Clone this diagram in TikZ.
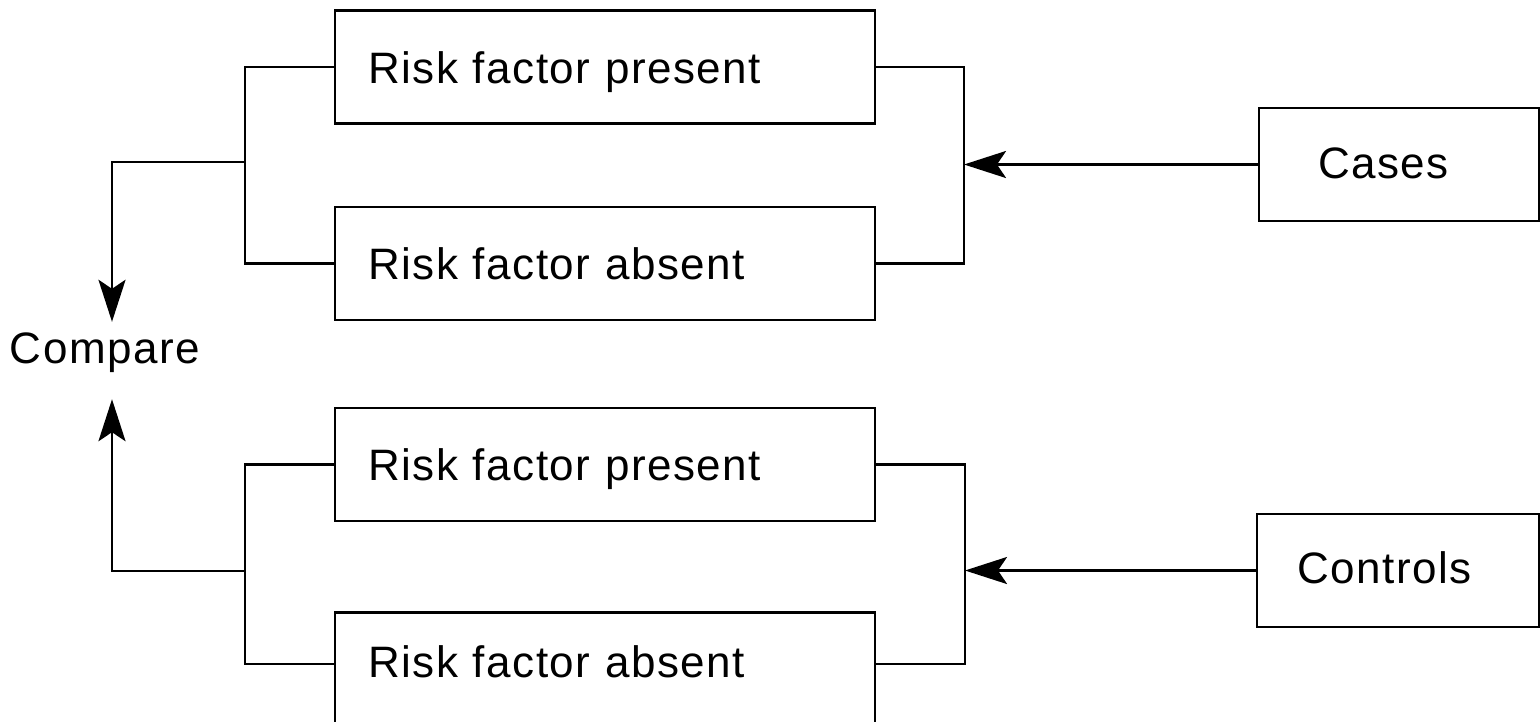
\documentclass[tikz,border=0pt]{standalone}
\usepackage{fontspec}
\setmainfont{Liberation Sans}[LetterSpace=3.5]
\usetikzlibrary{arrows.meta,calc}
\begin{document}
\begin{tikzpicture}[x=1pt,y=-1pt,
  every node/.style={font=\fontsize{44}{52}\selectfont},
  line/.style={line width=2.7pt},
  arr/.style={line width=2.7pt,-{Stealth[length=42pt,width=27pt,inset=9pt]}},
  riskbox/.style={draw,line width=2.7pt,minimum width=540pt,minimum height=113pt,
    text width=474pt,align=left,inner xsep=33pt,inner ysep=0pt,
    text height=40pt,text depth=8pt},
  groupbox/.style={draw,line width=2.7pt,minimum height=113pt,align=left,inner ysep=0pt}
]
\useasboundingbox (0,0) rectangle (1540,721);

\node[riskbox] (b1) at (605,67) {Risk factor present};
\node[riskbox] (b2) at (605,263.5) {Risk factor absent};
\node[riskbox] (b3) at (605,464.5) {Risk factor present};
\node[riskbox,text height=32pt,text depth=16pt] (b4) at (605,669) {Risk factor absent};

\node[groupbox,minimum width=280pt,text width=162pt,inner xsep=59pt,
  text height=33pt,text depth=6pt] (cases) at (1399,164.5) {Cases};
\node[groupbox,minimum width=282pt,text width=202pt,inner xsep=40pt,
  text height=32pt,text depth=7pt] (controls) at (1398,570.5) {Controls};

\node[inner xsep=0pt,inner ysep=8pt,text height=33pt,text depth=28pt] (cmp) at (105,360.5) {Compare};

\coordinate (tl) at (245,162);
\coordinate (bl) at (245,571);
\coordinate (tr) at (964,162);
\coordinate (br) at (965,573);

% left brackets
\draw[line] (b1.west) -| (tl) |- (b2.west);
\draw[line] (b3.west) -| (bl) |- ([yshift=5pt]b4.west);
\draw[arr] (tl) -| ($(cmp.north)+(7,0)$);
\draw[arr] (bl) -| ($(cmp.south)+(7,0)$);

% right brackets
\draw[line] (b1.east) -| (tr) |- (b2.east);
\draw[line] (b3.east) -| (br) |- ([yshift=5pt]b4.east);
\draw[arr] (cases.west) -- (cases.west -| tr);
\draw[arr] (controls.west) -- (controls.west -| br);
\end{tikzpicture}
\end{document}
